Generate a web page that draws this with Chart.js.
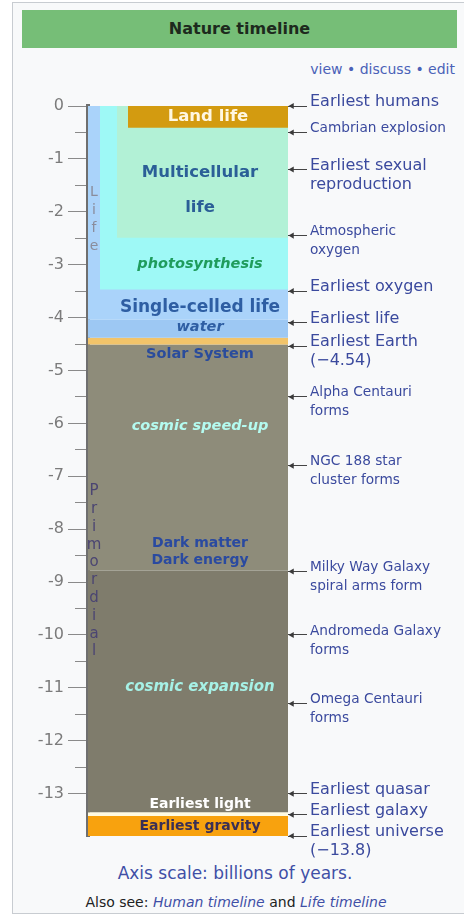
<!DOCTYPE html>
<html>
<head>
<meta charset="utf-8">
<script src="https://cdn.jsdelivr.net/npm/chart.js@4.4.1/dist/chart.umd.min.js"></script>
<style>
  html, body { margin: 0; padding: 0; background: #fff; }
  body { width: 464px; height: 922px; position: relative; overflow: hidden; font-family: "DejaVu Sans", sans-serif; }
  .box { position: absolute; left: 12px; top: 2px; width: 470px; height: 910px; background: #f8f9fa; border: 1px solid #c8ccd1; }
  .head { position: absolute; left: 22px; top: 10px; width: 435px; height: 38px; background: #76be77; color: #1d2a1d;
          font-weight: bold; font-size: 16px; line-height: 38px; text-align: center; }
  .links { position: absolute; right: 9px; top: 61px; font-size: 14px; color: #4a62b8; }
  canvas { position: absolute; left: 0; top: 0; }
  .scale { position: absolute; left: 0; width: 470px; top: 863px; text-align: center; font-size: 17px; color: #3f4fa6; }
  .also { position: absolute; left: 0; width: 472px; top: 894px; text-align: center; font-size: 14px; color: #202122; }
  .also i { color: #3f4fa6; }
</style>
</head>
<body>
<div class="box"></div>
<div class="head">Nature timeline</div>
<div class="links">view • discuss • edit</div>
<div class="scale">Axis scale: billions of years.</div>
<div class="also">Also see: <i>Human timeline</i> and <i>Life timeline</i></div>
<canvas id="timeline" width="464" height="922"></canvas>
<script>
// time runs from -13.8 (billions of years ago) up to 0 (now)
const eraNames = ['Earliest gravity', 'Earliest light', 'cosmic expansion', 'cosmic speed-up', 'Earliest Earth',
                  'water', 'Single-celled life', 'photosynthesis', 'Multicellular life', 'Land life'];
const eraFrom = [-13.8, -13.42, -13.35, -8.78, -4.51, -4.38, -4.04, -3.47, -2.49, -0.41];
const eraTill = [-13.42, -13.35, -8.78, -4.51, -4.38, -4.04, 0, 0, 0, 0];

// text written inside the coloured blocks, and where (in billions of years)
const blockText = ['Land life', 'Multicellular', 'life', 'photosynthesis', 'Single-celled life', 'water',
                   'Solar System', 'cosmic speed-up', 'Dark matter', 'Dark energy', 'cosmic expansion',
                   'Earliest light', 'Earliest gravity'];
const blockTextAt = [-0.2, -1.26, -1.92, -3.0, -3.81, -4.19, -4.7, -6.06, -8.26, -8.58, -10.98, -13.2, -13.61];

// the two narrow bars on the left, written letter by letter
const barNames = ['Life', 'Primordial'];
const barNameAt = [-2.15, -8.8];

// events pointed at on the right
const eventAt = [0, -0.5, -1.2, -2.45, -3.5, -4.1, -4.54, -5.5, -6.8, -8.8, -10, -11.3, -13, -13.4, -13.8];
const eventText = ['Earliest humans', 'Cambrian explosion', ['Earliest sexual', 'reproduction'],
                   ['Atmospheric', 'oxygen'], 'Earliest oxygen', 'Earliest life', ['Earliest Earth', '(\u22124.54)'],
                   ['Alpha Centauri', 'forms'], ['NGC 188 star', 'cluster forms'], ['Milky Way Galaxy', 'spiral arms form'],
                   ['Andromeda Galaxy', 'forms'], ['Omega Centauri', 'forms'], 'Earliest quasar', 'Earliest galaxy',
                   ['Earliest universe', '(\u221213.8)']];

const majorTicks = [0, -1, -2, -3, -4, -5, -6, -7, -8, -9, -10, -11, -12, -13];
const minorTicks = [-0.5, -1.5, -2.5, -3.5, -4.5, -5.5, -6.5, -7.5, -8.5, -9.5, -10.5, -11.5, -12.5];

// ---- styles ----
const X_MAX = 200;   // width of the plot in x units (1 unit = 1 px)
const eraStyle = {
  'Earliest gravity':   { color: '#f8a20e', lane: -3 },
  'Earliest light':     { color: '#fffbe2', lane: -3 },
  'cosmic expansion':   { color: '#7f7c6c', lane: 0 },
  'cosmic speed-up':    { color: '#8e8c7a', lane: 0 },
  'Earliest Earth':     { color: '#f2c46a', lane: -3 },
  'water':              { color: '#9dc8f3', lane: 0 },
  'Single-celled life': { color: '#aad3fa', lane: 0 },
  'photosynthesis':     { color: '#9ef9f6', lane: 12 },
  'Multicellular life': { color: '#b2f1d6', lane: 29 },
  'Land life':          { color: '#d39b10', lane: 40 }
};
const textStyle = {
  'Land life':          { font: 'bold 16.5px "DejaVu Sans"', color: '#fff7e2', x: 120 },
  'Multicellular':      { font: 'bold 16.5px "DejaVu Sans"', color: '#2b5f97' },
  'life':               { font: 'bold 16.5px "DejaVu Sans"', color: '#2b5f97' },
  'photosynthesis':     { font: 'italic bold 14.5px "DejaVu Sans"', color: '#1f9c5c' },
  'Single-celled life': { font: 'bold 17px "DejaVu Sans"', color: '#2e5ea3' },
  'water':              { font: 'italic bold 14.5px "DejaVu Sans"', color: '#2e5ea3' },
  'Solar System':       { font: 'bold 14.5px "DejaVu Sans"', color: '#2a4c9c' },
  'cosmic speed-up':    { font: 'italic bold 14.5px "DejaVu Sans"', color: '#b4fbf0' },
  'Dark matter':        { font: 'bold 14px "DejaVu Sans"', color: '#2a4aa0' },
  'Dark energy':        { font: 'bold 14px "DejaVu Sans"', color: '#2a4aa0' },
  'cosmic expansion':   { font: 'italic bold 15px "DejaVu Sans"', color: '#a6f1e6' },
  'Earliest light':     { font: 'bold 14px "DejaVu Sans"', color: '#ffffff' },
  'Earliest gravity':   { font: 'bold 14px "DejaVu Sans"', color: '#3a2f55' }
};
const barNameStyle = {
  'Life':       { font: '14px "DejaVu Sans"', color: '#8a8c9c', step: 18 },
  'Primordial': { font: '15px "DejaVu Sans"', color: '#4b4572', step: 17.8 }
};

const eraSets = eraNames.map((name, i) => ({
  type: 'line',
  label: name,
  data: [{ x: eraStyle[name].lane, y: eraTill[i] }, { x: X_MAX, y: eraTill[i] }],
  fill: { value: eraFrom[i] },
  backgroundColor: eraStyle[name].color,
  borderWidth: 0,
  pointRadius: 0,
  clip: false,
  order: eraNames.length - i + 1
}));

// small left-pointing heads on the event ticks (bubble type so no point is culled);
// the wide transparent border only widens the area check for heads just outside the plot
const arrowHeads = {
  type: 'bubble',
  label: 'events',
  data: eventAt.map(v => ({ x: X_MAX + 4, y: v })),
  pointStyle: 'triangle',
  rotation: -90,
  radius: 3.5,
  backgroundColor: '#3a3a3a',
  borderColor: 'rgba(0,0,0,0)',
  borderWidth: 6,
  clip: false,
  order: 0
};

const textPlugin = {
  id: 'textPlugin',
  afterDatasetsDraw(chart) {
    const { ctx, scales: { x, y } } = chart;
    ctx.save();
    ctx.textAlign = 'center';
    ctx.textBaseline = 'middle';
    blockText.forEach((t, i) => {
      const st = textStyle[t];
      ctx.font = st.font;
      ctx.fillStyle = st.color;
      ctx.fillText(t, x.getPixelForValue(st.x ?? 112), y.getPixelForValue(blockTextAt[i]));
    });
    barNames.forEach((name, i) => {
      const st = barNameStyle[name];
      const letters = name.split('');
      const mid = y.getPixelForValue(barNameAt[i]);
      ctx.font = st.font;
      ctx.fillStyle = st.color;
      letters.forEach((ch, k) => {
        ctx.fillText(ch, x.getPixelForValue(6), mid + (k - (letters.length - 1) / 2) * st.step);
      });
    });
    ctx.restore();
  }
};

new Chart(document.getElementById('timeline'), {
  type: 'line',
  data: { datasets: [...eraSets, arrowHeads] },
  plugins: [textPlugin],
  options: {
    responsive: false,
    animation: false,
    events: [],
    layout: { padding: { top: 106, bottom: 86, left: 0, right: 0 } },
    plugins: { legend: { display: false }, tooltip: { enabled: false } },
    scales: {
      x: { type: 'linear', min: 0, max: X_MAX, display: false },
      y: {
        type: 'linear', position: 'left', min: -13.8, max: 0,
        afterBuildTicks: s => { s.ticks = [...majorTicks, ...minorTicks].sort((a, b) => a - b).map(v => ({ value: v })); },
        afterFit: s => { s.width = 88; },
        ticks: {
          autoSkip: false,
          padding: 4,
          color: '#7b7b7b',
          font: { family: 'DejaVu Sans', size: 16 },
          callback: v => (majorTicks.includes(v) ? String(v) : '')
        },
        grid: {
          drawOnChartArea: false,
          tickLength: 20,
          tickColor: '#8a8a8a',
          tickWidth: 1,
          tickBorderDash: [20, 7],
          tickBorderDashOffset: c => (c.tick && majorTicks.includes(c.tick.value) ? 0 : 20)
        },
        border: { display: true, color: '#6f6f6f', width: 4 }
      },
      events: {
        type: 'linear', position: 'right', min: -13.8, max: 0,
        afterBuildTicks: s => { s.ticks = eventAt.map(v => ({ value: v })); },
        afterFit: s => { s.width = 176; },
        ticks: {
          autoSkip: false,
          padding: 3,
          labelOffset: -4,
          color: '#3b4a9e',
          font: c => ({
            family: 'DejaVu Sans',
            size: String(eventText[c.index]).startsWith('Earliest') ? 16 : 13.7,
            lineHeight: '19px'
          }),
          // a blank first line keeps the first text line beside the arrow
          callback: (v, i) => (Array.isArray(eventText[i]) ? ['', ...eventText[i]] : eventText[i])
        },
        grid: { drawOnChartArea: false, tickLength: 19, tickColor: '#444', tickWidth: 1 },
        border: { display: false }
      }
    }
  }
});
</script>
</body>
</html>
